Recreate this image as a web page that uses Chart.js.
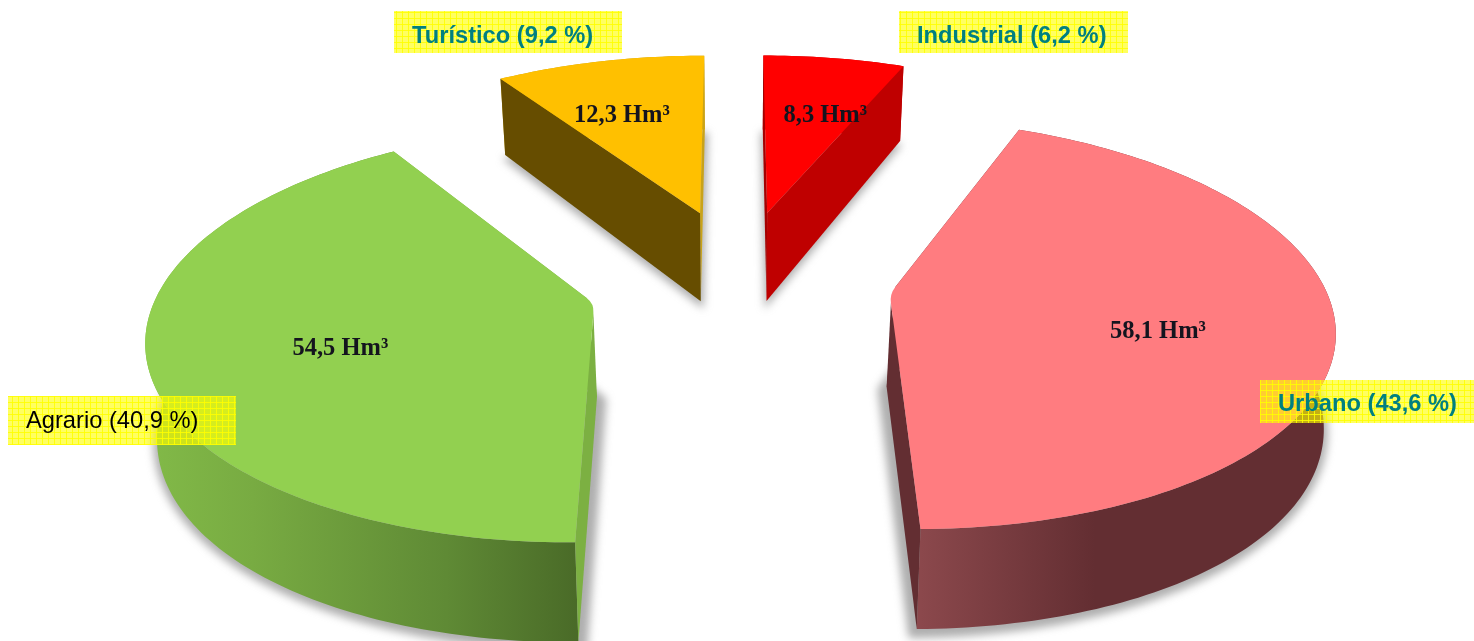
<!DOCTYPE html>
<html>
<head>
<meta charset="utf-8">
<style>
html,body{margin:0;padding:0;background:#fff}
#wrap{width:1474px;height:641px;position:relative}
</style>
<script src="https://cdn.jsdelivr.net/npm/chart.js@4/dist/chart.umd.min.js"></script>
</head>
<body>
<div id="wrap"><canvas id="c" width="1474" height="641"></canvas></div>
<script>
// Water use by sector, hm3
const sectors = ['Industrial', 'Urbano', 'Agrario', 'Turístico'];
const volumes = [8.3, 58.1, 54.5, 12.3];
const shareLabels = ['Industrial (6,2 %)', 'Urbano (43,6 %)', 'Agrario (40,9 %)', 'Turístico (9,2 %)'];
const volumeLabels = ['8,3 Hm³', '58,1 Hm³', '54,5 Hm³', '12,3 Hm³'];

const topColors = ['#FF0000', '#FF7C80', '#92D050', '#FFC000'];
// Cut faces of each slice: the one at its start angle and the one at its end angle
const startFaceColors = ['#A50000', '#632E32', '#7CB042', '#664D00'];
const endFaceColors = ['#BF0000', '#632E32', '#7CB042', '#C9A318'];

// How far each slice is pulled out, and how far it slides sideways
const explode = [156, 156.5, 148, 156];
const drift = [3.5, 3, -11, 8.3];
const apexRounding = [0, 9, 9, 0];

// Wall shading, left to right over each slice's width
const wallShades = [
  [[0, '#BF0000'], [1, '#BF0000']],
  [[0, '#8B484C'], [0.42, '#632E32'], [1, '#632E32']],
  [[0, '#82BA48'], [0.25, '#78AB42'], [0.7, '#5F8A35'], [1, '#4A6B28']],
  [[0, '#C9A318'], [1, '#C9A318']]
];

// Camera: ground-plane perspective with a vanishing point far above the pie
const TILT = 0.455, DISTANCE = 3050, NARROW = 0.98;
const project = (cx, cy, X, Y) => {
  const w = 1 - Y / DISTANCE;
  return {x: cx + X / w, y: cy + TILT * Y / w, s: 1 / w};
};
const wallHeight = s => 75 + 122.6 * (s - 0.847) - 209.6 * (s - 0.847) * (s - 0.953);
const lower = (cx, p) => ({x: cx + (p.x - cx) * NARROW, y: p.y + wallHeight(p.s)});
const lerp = (a, b, t) => ({x: a.x + (b.x - a.x) * t, y: a.y + (b.y - a.y) * t});

function sliceGeometry(arc, offset, slide) {
  const {x: cx, y: cy, startAngle: a0, endAngle: a1, outerRadius: R} =
    arc.getProps(['x', 'y', 'startAngle', 'endAngle', 'outerRadius']);
  const mid = (a0 + a1) / 2;
  const ux = Math.cos(mid), uy = Math.sin(mid);
  const ax = ux * offset - uy * slide, ay = uy * offset + ux * slide;
  const steps = Math.ceil((a1 - a0) / 0.02);
  const rim = [];
  for (let i = 0; i <= steps; i++) {
    const a = a0 + (a1 - a0) * i / steps;
    rim.push(project(cx, cy, ax + Math.cos(a) * R, ay + Math.sin(a) * R));
  }
  return {cx, cy, ax, ay, ux, uy, R, rim, apex: project(cx, cy, ax, ay)};
}

function fillPoly(ctx, pts, fill) {
  ctx.beginPath();
  pts.forEach((p, i) => i ? ctx.lineTo(p.x, p.y) : ctx.moveTo(p.x, p.y));
  ctx.closePath();
  ctx.fillStyle = fill;
  ctx.fill();
}

function drawShadow(ctx, g) {
  const base = [g.apex, ...g.rim].map(p => lower(g.cx, p));
  const mx = base.reduce((a, p) => a + p.x, 0) / base.length;
  const my = base.reduce((a, p) => a + p.y, 0) / base.length;
  const grown = base.map(p => ({x: mx + (p.x - mx) * 1.03, y: my + (p.y - my) * 1.03 + 3}));
  ctx.save();
  ctx.filter = 'blur(4px)';
  fillPoly(ctx, grown, 'rgba(120,120,120,0.6)');
  ctx.restore();
}

function drawSlice(ctx, g, i) {
  const {cx, rim, apex} = g;
  const first = rim[0], last = rim[rim.length - 1];
  const round = apexRounding[i];
  const nearFirst = lerp(apex, first, round / Math.hypot(first.x - apex.x, first.y - apex.y));
  const nearLast = lerp(apex, last, round / Math.hypot(last.x - apex.x, last.y - apex.y));

  // Rim wall first, then the cut faces, then the top surface
  const xs = rim.map(p => p.x);
  const left = Math.min(...xs), right = Math.max(...xs);
  const grad = ctx.createLinearGradient(left, 0, right, 0);
  wallShades[i].forEach(([t, c]) => grad.addColorStop(t, c));
  fillPoly(ctx, [...rim, ...rim.slice().reverse().map(p => lower(cx, p))], grad);

  fillPoly(ctx, [nearLast, last, lower(cx, last), lower(cx, apex)], endFaceColors[i]);
  fillPoly(ctx, [nearFirst, first, lower(cx, first), lower(cx, apex)], startFaceColors[i]);

  ctx.beginPath();
  ctx.moveTo(nearFirst.x, nearFirst.y);
  rim.forEach(p => ctx.lineTo(p.x, p.y));
  ctx.lineTo(nearLast.x, nearLast.y);
  ctx.quadraticCurveTo(apex.x, apex.y, nearFirst.x, nearFirst.y);
  ctx.closePath();
  ctx.fillStyle = topColors[i];
  ctx.fill();
}

const pieIn3d = {
  id: 'pieIn3d',
  beforeDatasetDraw(chart, args) {
    const ctx = chart.ctx;
    const meta = chart.getDatasetMeta(args.index);
    const geo = meta.data.map((arc, i) => sliceGeometry(arc, arc.options.offset, drift[i]));
    const order = [3, 0, 2, 1];
    order.forEach(i => drawShadow(ctx, geo[i]));
    order.forEach(i => drawSlice(ctx, geo[i], i));
    return false;
  }
};

// Screen-door yellow used behind the share labels
function labelFill(ctx) {
  const t = document.createElement('canvas');
  t.width = t.height = 6;
  const c = t.getContext('2d');
  c.fillStyle = 'rgba(255,255,0,0.62)';
  c.fillRect(0, 0, 6, 6);
  c.fillStyle = 'rgba(255,255,0,0.85)';
  c.fillRect(0, 0, 6, 1);
  c.fillRect(0, 0, 1, 6);
  return ctx.createPattern(t, 'repeat');
}

const shareBoxes = [
  {left: 899, top: 11, right: 1128, bottom: 53, color: '#008080', weight: 'bold', lift: 4},
  {left: 1260, top: 380, right: 1474, bottom: 423, color: '#008080', weight: 'bold', lift: 3},
  {left: 8, top: 396, right: 236, bottom: 445, color: '#000000', weight: 'normal', lift: 1},
  {left: 394, top: 11, right: 622, bottom: 53, color: '#008080', weight: 'bold', lift: 4}
];
// Volume label anchor, in slice radii along and across the slice's middle
const labelAlong = [0.62, 0.611, 0.585, 0.64];
const labelAcross = [0.039, 0.058, -0.036, -0.03];

const pieLabels = {
  id: 'pieLabels',
  afterDatasetsDraw(chart) {
    const ctx = chart.ctx;
    const meta = chart.getDatasetMeta(0);
    ctx.save();
    ctx.textBaseline = 'middle';
    ctx.textAlign = 'center';
    ctx.font = 'bold 24.5px "Liberation Serif"';
    ctx.fillStyle = '#14141E';
    meta.data.forEach((arc, i) => {
      const g = sliceGeometry(arc, arc.options.offset, drift[i]);
      const along = g.R * labelAlong[i], across = g.R * labelAcross[i];
      const p = project(g.cx, g.cy,
        g.ax + g.ux * along - g.uy * across,
        g.ay + g.uy * along + g.ux * across);
      ctx.fillText(volumeLabels[i], p.x, p.y + 2);
    });
    const fill = labelFill(ctx);
    ctx.textAlign = 'left';
    shareBoxes.forEach((b, i) => {
      ctx.fillStyle = fill;
      ctx.fillRect(b.left, b.top, b.right - b.left, b.bottom - b.top);
      ctx.font = b.weight + ' 23.7px "Liberation Sans"';
      ctx.fillStyle = b.color;
      ctx.fillText(shareLabels[i], b.left + 18, (b.top + b.bottom) / 2 + b.lift);
    });
    ctx.restore();
  }
};

new Chart(document.getElementById('c'), {
  type: 'pie',
  data: {
    labels: sectors,
    datasets: [{
      data: volumes,
      backgroundColor: topColors,
      borderWidth: 0,
      offset: explode,
      radius: 433
    }]
  },
  options: {
    responsive: false,
    animation: false,
    rotation: 0,
    layout: {padding: {right: 4, bottom: 83}},
    plugins: {legend: {display: false}, tooltip: {enabled: false}}
  },
  plugins: [pieIn3d, pieLabels]
});
</script>
</body>
</html>
